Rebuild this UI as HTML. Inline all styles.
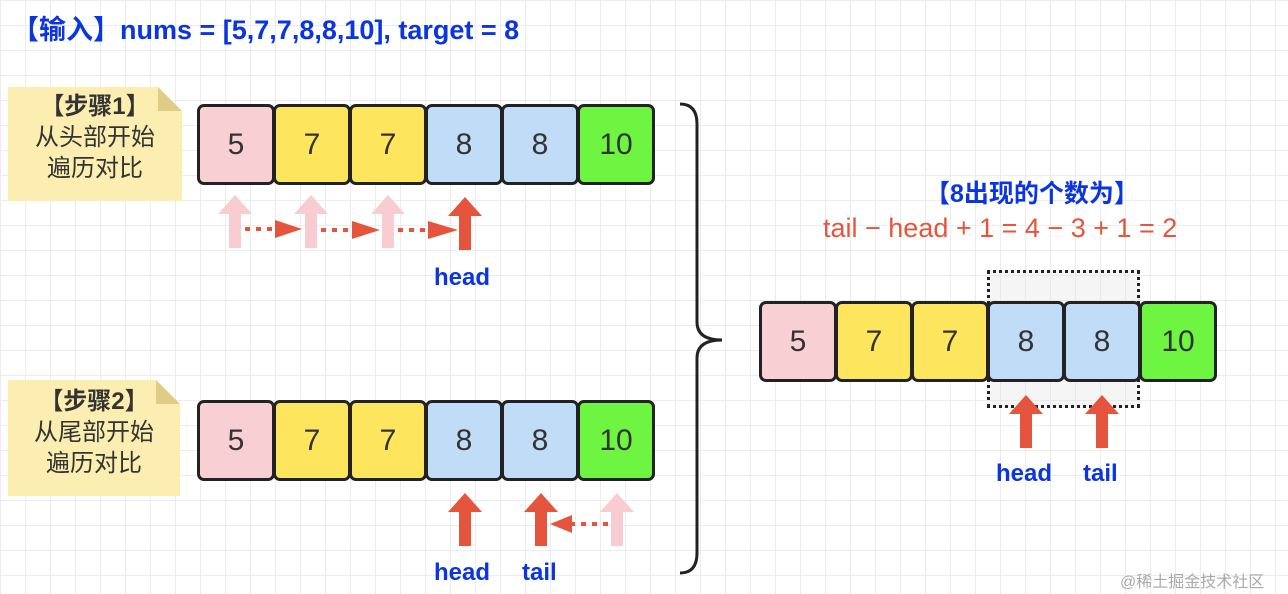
<!DOCTYPE html><html><head><meta charset="utf-8"><style>
body{margin:0;width:1288px;height:594px;overflow:hidden;background:#fff;
background-image:linear-gradient(#ececec 1px,transparent 1px),linear-gradient(90deg,#ececec 1px,transparent 1px);background-size:25px 25px;
font-family:"Liberation Sans","Noto Sans CJK SC",sans-serif;position:relative}
.a{position:absolute}
.c{position:absolute;width:72px;height:75px;border:3px solid #222;border-radius:7px;box-sizing:content-box;font-size:30px;color:#333;display:flex;align-items:center;justify-content:center}
.p{background:#f8d0d4}.y{background:#fde55e}.b{background:#c0dcf6}.g{background:#6ef542}
.note{position:absolute;background:#fbeeb0;font-size:24px;color:#333;text-align:center;line-height:31px}
.lab{position:absolute;color:#0a35e0;font-size:24px;font-weight:bold}
</style></head><body>
<div class="a" style="left:12px;top:8px;font-size:27px;font-weight:bold;color:#0a35e0">【输入】nums = [5,7,7,8,8,10], target = 8</div>

<div class="note" style="left:8px;top:87px;width:174px;height:114px;clip-path:polygon(0 0,150px 0,174px 24px,174px 114px,0 114px);padding-top:4px;box-sizing:border-box"><b>【步骤1】</b><br>从头部开始<br>遍历对比</div>
<div class="a" style="left:158px;top:87px;width:24px;height:24px;background:#e0cc85;clip-path:polygon(0 0,100% 100%,0 100%)"></div>
<div class="note" style="left:8px;top:380px;width:172px;height:116px;clip-path:polygon(0 0,148px 0,172px 24px,172px 116px,0 116px);padding-top:6px;box-sizing:border-box"><b>【步骤2】</b><br>从尾部开始<br>遍历对比</div>
<div class="a" style="left:156px;top:380px;width:24px;height:24px;background:#e0cc85;clip-path:polygon(0 0,100% 100%,0 100%)"></div>

<div class="c p" style="left:197px;top:104px">5</div><div class="c y" style="left:273px;top:104px">7</div><div class="c y" style="left:349px;top:104px">7</div><div class="c b" style="left:425px;top:104px">8</div><div class="c b" style="left:501px;top:104px">8</div><div class="c g" style="left:577px;top:104px">10</div>
<div class="c p" style="left:197px;top:400px">5</div><div class="c y" style="left:273px;top:400px">7</div><div class="c y" style="left:349px;top:400px">7</div><div class="c b" style="left:425px;top:400px">8</div><div class="c b" style="left:501px;top:400px">8</div><div class="c g" style="left:577px;top:400px">10</div>

<div class="a" style="left:987px;top:270px;width:153px;height:138px;background:rgba(230,230,230,.4);border:3px dotted #222;box-sizing:border-box"></div>
<div class="c p" style="left:759px;top:301px">5</div><div class="c y" style="left:835px;top:301px">7</div><div class="c y" style="left:911px;top:301px">7</div><div class="c b" style="left:987px;top:301px">8</div><div class="c b" style="left:1063px;top:301px">8</div><div class="c g" style="left:1139px;top:301px">10</div>

<svg class="a" style="left:0;top:0" width="1288" height="594">
<defs>
<g id="up"><polygon points="0,0 17,19 6,19 6,53 -6,53 -6,19 -17,19"/></g>
</defs>
<g fill="#f8ccd0"><use href="#up" x="235" y="195"/><use href="#up" x="311" y="195"/><use href="#up" x="388" y="195"/><use href="#up" x="617" y="493"/></g>
<g fill="#e5553d"><use href="#up" x="465" y="197"/><use href="#up" x="465" y="493"/><use href="#up" x="541" y="493"/><use href="#up" x="1026" y="395"/><use href="#up" x="1102" y="395"/></g>
<g stroke="#e5553d" stroke-width="4" stroke-dasharray="5,6"><line x1="245" y1="229" x2="275" y2="229"/><line x1="321" y1="230" x2="352" y2="230"/><line x1="398" y1="230" x2="428" y2="230"/><line x1="608" y1="524" x2="572" y2="524"/></g>
<g fill="#e5553d"><polygon points="275,220 302,229 275,238"/><polygon points="352,221 380,230 352,239"/><polygon points="428,221 458,230 428,239"/><polygon points="572,515 550,524 572,533"/></g>
<path d="M680,104 Q697,104 697,124 L697,322 Q697,340 722,340 Q697,340 697,358 L697,553 Q697,573 680,573" fill="none" stroke="#222" stroke-width="3"/>
</svg>

<div class="lab" style="left:434px;top:264px">head</div>
<div class="lab" style="left:434px;top:559px">head</div>
<div class="lab" style="left:522px;top:559px">tail</div>
<div class="lab" style="left:996px;top:460px">head</div>
<div class="lab" style="left:1083px;top:460px">tail</div>
<div class="a" style="left:925px;top:174px;font-size:25px;font-weight:bold;color:#0a35e0">【8出现的个数为】</div>
<div class="a" style="left:823px;top:213px;font-size:27px;color:#e5553d;white-space:nowrap">tail − head + 1 = 4 − 3 + 1 = 2</div>
<div class="a" style="left:1120px;top:568px;font-size:16px;color:#aaa">@稀土掘金技术社区</div>
</body></html>
